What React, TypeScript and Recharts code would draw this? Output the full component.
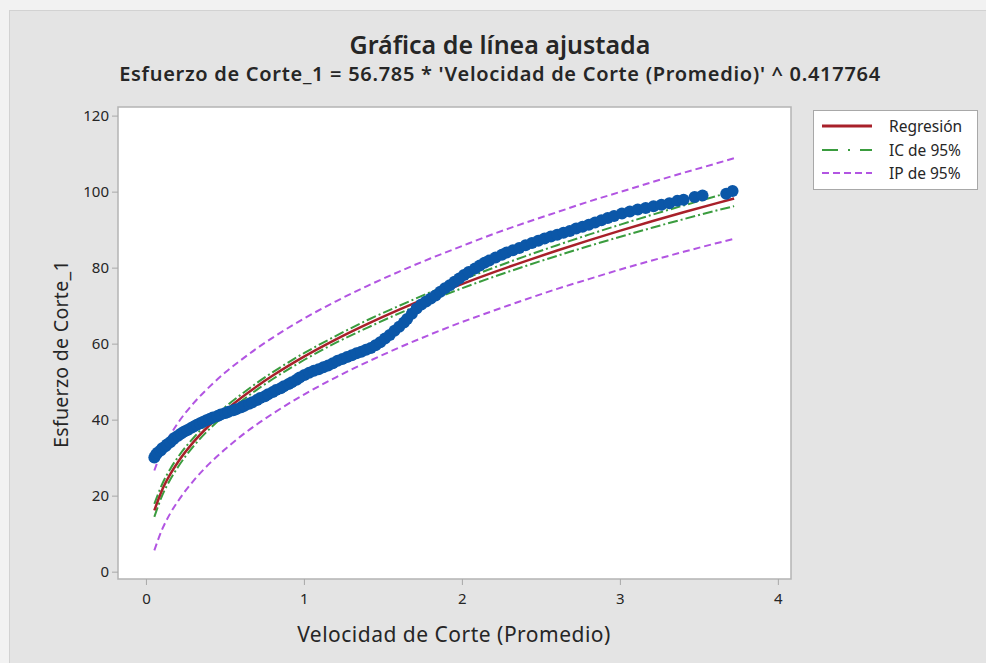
import {
  ComposedChart,
  Scatter,
  Line,
  XAxis,
  YAxis,
  CartesianGrid,
  ReferenceArea,
} from 'recharts';

const obsX = [
  0.05, 0.06, 0.07, 0.09, 0.1, 0.12, 0.13, 0.15, 0.17, 0.18, 0.2, 0.22, 0.24, 0.26, 0.28, 0.3,
  0.32, 0.34, 0.36, 0.38, 0.4, 0.42, 0.45, 0.47, 0.5, 0.52, 0.55, 0.57, 0.6, 0.62, 0.65, 0.67,
  0.7, 0.72, 0.75, 0.77, 0.8, 0.82, 0.85, 0.87, 0.9, 0.92, 0.95, 0.97, 1.0, 1.03, 1.06, 1.09,
  1.12, 1.15, 1.18, 1.21, 1.24, 1.27, 1.3, 1.33, 1.36, 1.39, 1.42, 1.45, 1.48, 1.51, 1.54, 1.57,
  1.6, 1.63, 1.65, 1.68, 1.71, 1.74, 1.77, 1.8, 1.83, 1.86, 1.89, 1.92, 1.95, 1.98, 2.01, 2.04,
  2.08, 2.11, 2.14, 2.17, 2.21, 2.25, 2.28, 2.32, 2.36, 2.4, 2.44, 2.48, 2.52, 2.56, 2.6, 2.64,
  2.68, 2.72, 2.76, 2.8, 2.84, 2.88, 2.92, 2.96, 3.01, 3.06, 3.11, 3.16, 3.21, 3.26, 3.31, 3.36,
  3.4, 3.47, 3.52, 3.67, 3.71,
];
const obsY = [
  30.2, 30.9, 31.4, 32.0, 32.6, 33.1, 33.6, 34.2, 35.0, 35.4, 35.9, 36.5, 37.0, 37.4, 37.9, 38.3,
  38.8, 39.2, 39.6, 40.0, 40.3, 40.7, 41.1, 41.5, 41.9, 42.2, 42.6, 42.9, 43.4, 43.8, 44.3, 44.7,
  45.3, 45.8, 46.3, 46.8, 47.4, 47.9, 48.4, 48.9, 49.5, 50.0, 50.6, 51.2, 51.9, 52.5, 53.0, 53.4,
  53.9, 54.4, 55.0, 55.6, 56.1, 56.6, 57.1, 57.6, 58.0, 58.5, 59.0, 59.7, 60.5, 61.5, 62.4, 63.5,
  64.6, 65.7, 66.6, 68.0, 69.4, 70.4, 71.2, 72.0, 72.8, 73.8, 74.7, 75.5, 76.4, 77.3, 78.2, 79.0,
  79.9, 80.7, 81.4, 82.0, 82.8, 83.5, 84.1, 84.7, 85.3, 86.0, 86.6, 87.2, 87.8, 88.3, 88.8, 89.3,
  89.8, 90.4, 90.9, 91.4, 92.0, 92.6, 93.2, 93.7, 94.4, 94.9, 95.4, 95.8, 96.3, 96.7, 97.1, 97.7,
  98.0, 98.7, 99.1, 99.6, 100.3,
];

// fitted line, confidence and prediction bands
const fitX = [0.05, 0.1, 0.15, 0.2, 0.3, 0.4, 0.5, 0.6, 0.7, 0.8, 1.0, 1.2, 1.4, 1.6, 1.8, 2.0, 2.2, 2.4, 2.6, 2.8, 3.0, 3.2, 3.4, 3.6, 3.72];
const fitY = [16.25, 21.7, 25.71, 28.99, 34.34, 38.72, 42.51, 45.87, 48.93, 51.73, 56.79, 61.28, 65.35, 69.1, 72.59, 75.85, 78.94, 81.86, 84.64, 87.31, 89.86, 92.32, 94.69, 96.97, 98.31];
const ciLow = [14.55, 20.2, 24.31, 27.69, 33.24, 37.72, 41.51, 44.97, 48.03, 50.83, 55.89, 60.38, 64.35, 68.1, 71.49, 74.75, 77.74, 80.56, 83.24, 85.81, 88.26, 90.62, 92.89, 95.07, 96.31];
const ciHigh = [17.95, 23.2, 27.11, 30.29, 35.44, 39.72, 43.51, 46.77, 49.83, 52.63, 57.69, 62.18, 66.35, 70.1, 73.69, 76.95, 80.14, 83.16, 86.04, 88.81, 91.46, 94.02, 96.49, 98.87, 100.31];
const piLow = [5.75, 11.3, 15.41, 18.69, 24.14, 28.62, 32.41, 35.87, 38.93, 41.73, 46.79, 51.28, 55.35, 59.1, 62.59, 65.85, 68.84, 71.76, 74.54, 77.11, 79.66, 82.02, 84.29, 86.47, 87.71];
const piHigh = [26.75, 32.1, 36.01, 39.29, 44.54, 48.82, 52.61, 55.87, 58.93, 61.73, 66.79, 71.28, 75.35, 79.1, 82.59, 85.85, 89.04, 91.96, 94.74, 97.51, 100.06, 102.62, 105.09, 107.47, 108.91];

const xTicks = [0, 1, 2, 3, 4];
const yTicks = [0, 20, 40, 60, 80, 100, 120];

const points = obsX.map((x, i) => ({ x, y: obsY[i] }));
const fitRows = fitX.map((x, i) => ({
  x,
  fit: fitY[i],
  ciLow: ciLow[i],
  ciHigh: ciHigh[i],
  piLow: piLow[i],
  piHigh: piHigh[i],
}));

const RED = '#a8202a';
const GREEN = '#3a9c3e';
const PURPLE = '#b255e2';
const BLUE = '#0b57a8';
const FONT = '"Noto Sans", "Open Sans", sans-serif';
const INK = '#262626';

const Dot = (props: any) => <circle cx={props.cx} cy={props.cy} r={6} fill={BLUE} />;

const LegendBox = () => (
  <div
    style={{
      position: 'absolute',
      left: 813,
      top: 110,
      width: 163,
      height: 78,
      background: '#fff',
      border: '1px solid #a8a8a8',
      fontSize: 15.5,
      color: INK,
    }}
  >
    {[
      { name: 'Regresión', color: RED, dash: undefined, w: 3 },
      { name: 'IC de 95%', color: GREEN, dash: '16 10 2 10', w: 2 },
      { name: 'IP de 95%', color: PURPLE, dash: '7 4', w: 2 },
    ].map((it, i) => (
      <div key={i} style={{ position: 'absolute', left: 8, top: 5 + i * 23.5, height: 20, display: 'flex', alignItems: 'center' }}>
        <svg width={52} height={10}>
          <line x1={0} y1={5} x2={50} y2={5} stroke={it.color} strokeWidth={it.w} strokeDasharray={it.dash} />
        </svg>
        <span style={{ marginLeft: 15 }}>{it.name}</span>
      </div>
    ))}
  </div>
);

export default function App() {
  return (
    <div style={{ position: 'relative', width: 986, height: 663, background: '#f2f2f2', fontFamily: FONT }}>
      <style>{'body{margin:0}'}</style>
      <div
        style={{
          position: 'absolute',
          left: 9,
          top: 10,
          right: 0,
          bottom: 0,
          background: '#e4e4e4',
          borderLeft: '1px solid #d2d2d2',
          borderTop: '1px solid #d2d2d2',
        }}
      />
      <div style={{ position: 'absolute', left: 0, top: 0 }}>
        <ComposedChart width={986} height={663} margin={{ top: 107, right: 195, bottom: 0, left: 0 }}>
          <CartesianGrid fill="#fff" horizontal={false} vertical={false} />
          <XAxis
            type="number"
            dataKey="x"
            domain={[-0.18, 4.08]}
            ticks={xTicks}
            allowDataOverflow
            height={84}
            axisLine={false}
            tickSize={6}
            tickMargin={8}
            tickLine={{ stroke: '#a8a8a8' }}
            tick={{ fill: INK, fontSize: 15, fontFamily: FONT }}
          />
          <YAxis
            type="number"
            dataKey="y"
            domain={[-1.8, 122.4]}
            ticks={yTicks}
            allowDataOverflow
            width={118}
            axisLine={false}
            tickSize={6}
            tickMargin={3}
            tickLine={{ stroke: '#a8a8a8' }}
            tick={{ fill: INK, fontSize: 15, fontFamily: FONT }}
          />
          <ReferenceArea x1={-0.18} x2={4.08} y1={-1.8} y2={122.4} fill="none" stroke="#b4b4b4" strokeWidth={1.5} />
          <Scatter data={points} dataKey="y" shape={Dot} isAnimationActive={false} />
          <Line data={fitRows} dataKey="piHigh" type="monotone" stroke={PURPLE} strokeWidth={2} strokeDasharray="7 4" dot={false} isAnimationActive={false} />
          <Line data={fitRows} dataKey="piLow" type="monotone" stroke={PURPLE} strokeWidth={2} strokeDasharray="7 4" dot={false} isAnimationActive={false} />
          <Line data={fitRows} dataKey="ciHigh" type="monotone" stroke={GREEN} strokeWidth={2} strokeDasharray="10 3 2 3" dot={false} isAnimationActive={false} />
          <Line data={fitRows} dataKey="ciLow" type="monotone" stroke={GREEN} strokeWidth={2} strokeDasharray="10 3 2 3" dot={false} isAnimationActive={false} />
          <Line data={fitRows} dataKey="fit" type="monotone" stroke={RED} strokeWidth={2.5} dot={false} isAnimationActive={false} />
        </ComposedChart>
      </div>

      {/* titles */}
      <div style={{ position: 'absolute', left: 0, width: 1000, top: 27, textAlign: 'center', fontSize: 25, fontWeight: 600, color: INK }}>
        Gráfica de línea ajustada
      </div>
      <div style={{ position: 'absolute', left: 0, width: 1000, top: 60, textAlign: 'center', fontSize: 20, fontWeight: 600, letterSpacing: 0.7, color: INK }}>
        Esfuerzo de Corte_1 = 56.785 * 'Velocidad de Corte (Promedio)' ^ 0.417764
      </div>

      {/* axis titles */}
      <div style={{ position: 'absolute', left: 454, top: 634, transform: 'translate(-50%, -50%)', fontSize: 21, letterSpacing: 0.5, color: INK, whiteSpace: 'nowrap' }}>
        Velocidad de Corte (Promedio)
      </div>
      <div
        style={{
          position: 'absolute',
          left: 60,
          top: 354,
          transform: 'translate(-50%, -50%) rotate(-90deg)',
          fontSize: 19.5,
          letterSpacing: 0.3,
          color: INK,
          whiteSpace: 'nowrap',
        }}
      >
        Esfuerzo de Corte_1
      </div>

      <LegendBox />
    </div>
  );
}
